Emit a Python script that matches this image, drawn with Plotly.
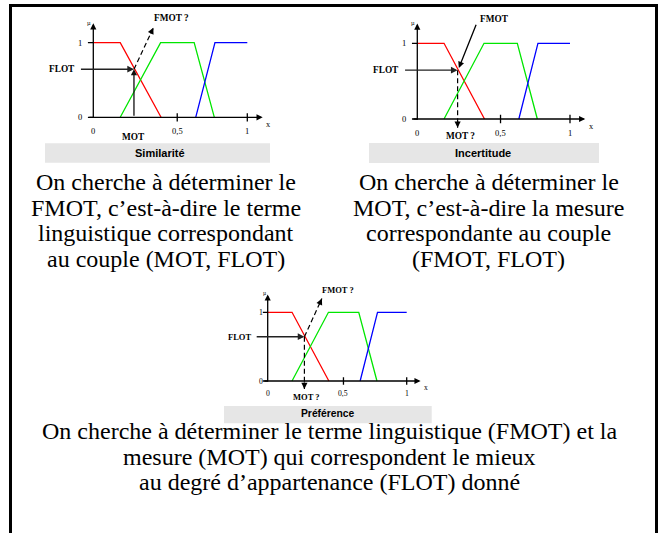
import math
import plotly.graph_objects as go

W, H = 659, 533

# ---------------- data ----------------
red_x = [0.0, 0.175, 0.44]
red_mu = [1, 1, 0]
green_x = [0.175, 0.437, 0.655, 0.786]
green_mu = [0, 1, 1, 0]
blue_x = [0.665, 0.79, 1.0]
blue_mu = [0, 1, 1]

x_tick_vals = [0, 0.545, 1]
x_tick_text = ["0", "0,5", "1"]
y_tick_vals = [0, 1]
y_tick_text = ["0", "1"]

mot_value = 0.264
flot_value = 0.645
fmot_tip = [0.39, 1.2]
fmot_label_pt = [0.389, 1.264]
mot_down_tip = -0.115

titles = ["Similarité", "Incertitude", "Préférence"]
fmot_labels = ["FMOT ?", "FMOT", "FMOT ?"]
mot_labels = ["MOT", "MOT ?", "MOT ?"]
texts = [
    ["On cherche à déterminer le", "FMOT, c’est-à-dire le terme",
     "linguistique correspondant", "au couple (MOT, FLOT)"],
    ["On cherche à déterminer le", "MOT, c’est-à-dire la mesure",
     "correspondante au couple", "(FMOT, FLOT)"],
    ["On cherche à déterminer le terme linguistique (FMOT) et la",
     "mesure (MOT) qui correspondent le mieux",
     "au degré d’appartenance (FLOT) donné"],
]

# ---------------- layout of the panels (pixels) ----------------
panels = [
    dict(ox=93.3, oy=117.3, sx=154.0, sy=74.6, fs=9.3, box=(45, 143.3, 270, 162.7),
         tcx=160, tcy=153, tfs=11, text_cx=166, base0=190, ylab=-0.086, motlx=0.264, motly=-0.26),
    dict(ox=417.3, oy=119.0, sx=152.7, sy=75.7, fs=9.3, box=(369, 143, 599, 163),
         tcx=483, tcy=153, tfs=11, text_cx=489, base0=190, ylab=-0.09, motlx=0.285, motly=-0.225),
    dict(ox=267.7, oy=381.0, sx=139.0, sy=68.7, fs=8.5, box=(224, 406, 431.7, 423.3),
         tcx=327.5, tcy=413.5, tfs=10.3, text_cx=329, base0=439, ylab=-0.045, motlx=0.278, motly=-0.228),
]
line_step = 25.7
XR = [-0.35, 1.3]
YR = [-0.45, 1.4]

SERIF = "Liberation Serif, Times New Roman, serif"
SANS = "Liberation Sans, Arial, sans-serif"

fig = go.Figure()
annotations = []
shapes = []
axes_layout = {}


def px2paper(x, y):
    return x / W, 1 - y / H


for i, p in enumerate(panels):
    sfx = "" if i == 0 else str(i + 1)
    xa, ya = "x" + sfx, "y" + sfx
    xd = [(p["ox"] + XR[0] * p["sx"]) / W, (p["ox"] + XR[1] * p["sx"]) / W]
    yd = [1 - (p["oy"] - YR[0] * p["sy"]) / H, 1 - (p["oy"] - YR[1] * p["sy"]) / H]
    axes_layout["xaxis" + sfx] = dict(domain=xd, range=XR, visible=False,
                                      anchor=ya, fixedrange=True)
    axes_layout["yaxis" + sfx] = dict(domain=yd, range=YR, visible=False,
                                      anchor=xa, fixedrange=True)

    def tr(x, y, color, width=1.3, dash=None):
        fig.add_trace(go.Scatter(x=x, y=y, mode="lines", xaxis=xa, yaxis=ya,
                                 line=dict(color=color, width=width, dash=dash),
                                 hoverinfo="skip", cliponaxis=False, showlegend=False))

    # fuzzy sets
    tr(red_x, red_mu, "#ff0000")
    tr(green_x, green_mu, "#00e600")
    tr(blue_x, blue_mu, "#0000ff")

    # tick marks
    tx, ty = [], []
    for v in x_tick_vals[1:]:
        tx += [v, v, None]
        ty += [-0.055, 0.055, None]
    tr(tx, ty, "#000000", 1.3)
    tx, ty = [], []
    for v in y_tick_vals:
        tx += [-0.035, 0, None]
        ty += [v, v, None]
    tr(tx, ty, "#000000", 1.3)

    def arrow(head, tail, color="#000000", width=1.3):
        annotations.append(dict(x=head[0], y=head[1], ax=tail[0], ay=tail[1],
                                xref=xa, yref=ya, axref=xa, ayref=ya, text="",
                                showarrow=True, arrowhead=2, arrowsize=0.95,
                                arrowwidth=width, arrowcolor=color,
                                standoff=0, startstandoff=0))

    def head_only(head, tail, color="#000000", width=1.3):
        dxp = (head[0] - tail[0]) * p["sx"]
        dyp = -(head[1] - tail[1]) * p["sy"]
        n = math.hypot(dxp, dyp)
        ux, uy = dxp / n, dyp / n
        annotations.append(dict(x=head[0], y=head[1], ax=-ux * 8, ay=-uy * 8,
                                xref=xa, yref=ya, text="", showarrow=True,
                                arrowhead=2, arrowsize=0.95, arrowwidth=width,
                                arrowcolor=color, standoff=0, startstandoff=0))

    def label(x, y, text, size, bold=False, family=SERIF):
        annotations.append(dict(x=x, y=y, xref=xa, yref=ya, text=("<b>%s</b>" % text) if bold else text,
                                showarrow=False, font=dict(family=family, size=size, color="#000000"),
                                xanchor="center", yanchor="middle"))

    # axes with arrows
    arrow([1.1, 0], [-0.035, 0])
    arrow([0, 1.26], [0, -0.03])

    inter = [mot_value, flot_value]
    # FLOT arrow
    arrow(inter, [-0.09, flot_value], color="#222222", width=1.4)

    if i == 0:
        arrow(inter, [mot_value, 0], color="#111111", width=1.3)
        tr([mot_value, fmot_tip[0]], [flot_value, fmot_tip[1]], "#000000", 1.2, "5px,3px")
        head_only(fmot_tip, inter)
    elif i == 1:
        arrow([mot_value + 0.008, flot_value + 0.03], fmot_label_pt)
        tr([mot_value, mot_value], [flot_value, mot_down_tip], "#000000", 1.2, "5px,3px")
        head_only([mot_value, mot_down_tip], inter)
    else:
        tr([mot_value, fmot_tip[0]], [flot_value, fmot_tip[1]], "#000000", 1.2, "5px,3px")
        head_only(fmot_tip, inter)
        tr([mot_value, mot_value], [flot_value, mot_down_tip], "#000000", 1.2, "5px,3px")
        head_only([mot_value, mot_down_tip], inter)

    fs = p["fs"]
    label(-0.205, flot_value, "FLOT", fs, bold=True)
    label(0.505, 1.327, fmot_labels[i], fs, bold=True)
    label(p["motlx"], p["motly"], mot_labels[i], fs, bold=True)
    for v, t in zip(x_tick_vals, x_tick_text):
        label(v, -0.185, t, fs - 0.8)
    for v, t in zip(y_tick_vals, y_tick_text):
        label(p["ylab"], v, t, fs - 0.8)
    label(-0.025, 1.275, "µ", fs - 3)
    label(1.14, -0.1, "x", fs - 1)

    # grey caption box
    bx0, by0, bx1, by1 = p["box"]
    x0, y0 = px2paper(bx0, by0)
    x1, y1 = px2paper(bx1, by1)
    shapes.append(dict(type="rect", xref="paper", yref="paper", x0=x0, y0=y0, x1=x1, y1=y1,
                       fillcolor="#e6e6e6", line=dict(width=0), layer="below"))
    cx, cy = px2paper(p["tcx"], p["tcy"])
    annotations.append(dict(x=cx, y=cy, xref="paper", yref="paper", text="<b>%s</b>" % titles[i],
                            showarrow=False, font=dict(family=SANS, size=p["tfs"], color="#000000"),
                            xanchor="center", yanchor="middle"))

    # explanatory text
    for k, line in enumerate(texts[i]):
        base = p["base0"] + k * line_step
        tx_, ty_ = px2paper(p["text_cx"], base - 8)
        annotations.append(dict(x=tx_, y=ty_, xref="paper", yref="paper", text=line,
                                showarrow=False, font=dict(family=SERIF, size=24, color="#000000"),
                                xanchor="center", yanchor="middle"))

# outer frame
fx0, fy0 = px2paper(10.5, 5.5)
fx1, fy1 = px2paper(656.5, 545)
shapes.append(dict(type="rect", xref="paper", yref="paper", x0=fx0, y0=fy0, x1=fx1, y1=fy1,
                   line=dict(color="#000000", width=3), fillcolor="rgba(0,0,0,0)"))

fig.update_layout(width=W, height=H, margin=dict(l=0, r=0, t=0, b=0),
                  paper_bgcolor="#ffffff", plot_bgcolor="rgba(0,0,0,0)",
                  showlegend=False, annotations=annotations, shapes=shapes,
                  **axes_layout)

fig.write_html("out.html", config={"displayModeBar": False},
               post_script="document.body.style.margin='0';document.body.style.overflow='hidden';")
